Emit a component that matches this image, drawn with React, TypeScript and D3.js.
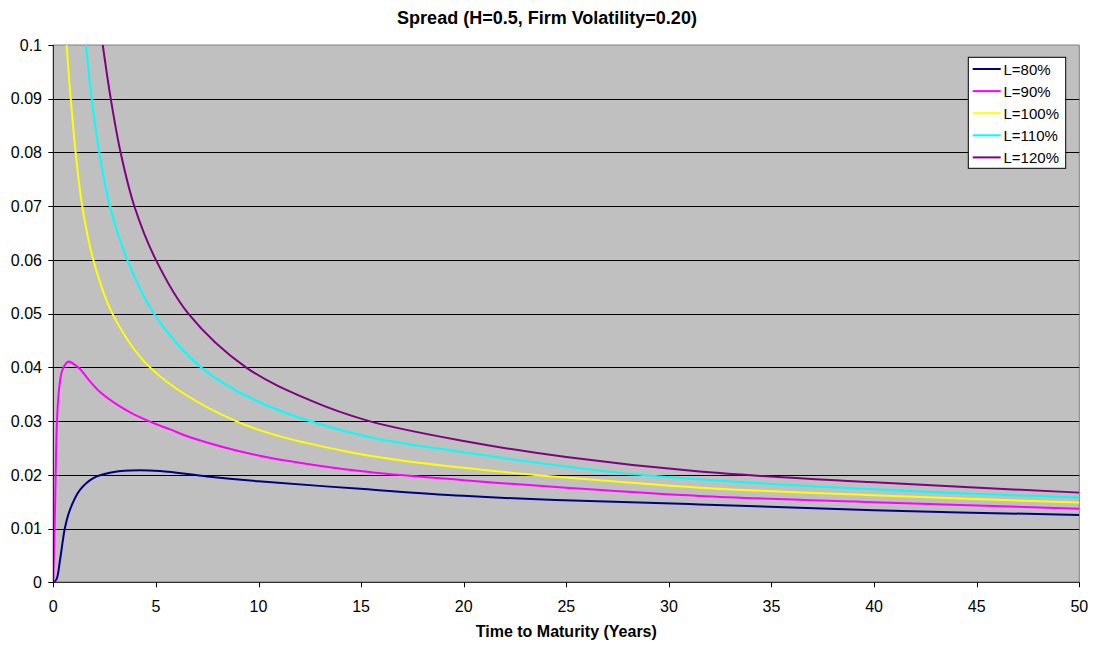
import React from "react";
import * as d3 from "d3";

const title = "Spread (H=0.5, Firm Volatility=0.20)";
const xTitle = "Time to Maturity (Years)";
const xTicks = [0, 5, 10, 15, 20, 25, 30, 35, 40, 45, 50];
const yTicks = [0, 0.01, 0.02, 0.03, 0.04, 0.05, 0.06, 0.07, 0.08, 0.09, 0.1];

const seriesNames = ["L=80%", "L=90%", "L=100%", "L=110%", "L=120%"];
const seriesColors = ["#000080", "#FF00FF", "#FFFF00", "#00FFFF", "#800080"];

const l80: [number, number][] = [
  [0, 0], [0.15, 0.0005], [0.33, 0.0042], [0.57, 0.0102],
  [0.81, 0.0135], [1.3, 0.0172], [1.95, 0.0194], [2.76, 0.0204], [3.74, 0.0208],
  [5.2, 0.0207], [7.5, 0.0197], [10, 0.0188], [14.96, 0.0174], [20, 0.0161],
  [24.5, 0.0153], [31.5, 0.0145], [40, 0.0134], [50, 0.01253],
];
const l90: [number, number][] = [
  [0, 0], [0.08, 0.013], [0.17, 0.029], [0.27, 0.0355], [0.45, 0.0396],
  [0.75, 0.0411], [1.0, 0.0406], [1.3, 0.0397], [1.79, 0.0374], [2.28, 0.0354],
  [3.09, 0.0331], [3.9, 0.0313], [4.71, 0.0299], [5.69, 0.02845], [6.66, 0.0270],
  [10, 0.0236], [14.96, 0.0207], [20, 0.0190],
  [25, 0.0176], [31.5, 0.01607], [40, 0.0149], [50, 0.01371],
];
const l100: [number, number][] = [
  [0.65, 0.1], [0.85, 0.09], [1.09, 0.08], [1.41, 0.07], [1.95, 0.06], [2.88, 0.05],
  [4.71, 0.04], [8.9, 0.03], [14.46, 0.0242],
  [20, 0.0213], [25, 0.0195], [31.5, 0.01762], [40, 0.0162], [50, 0.01483],
];
const l110: [number, number][] = [
  [1.59, 0.1], [1.87, 0.09], [2.24, 0.08], [2.76, 0.07], [3.61, 0.06], [4.9, 0.05],
  [7.2, 0.04], [10, 0.0336], [14.96, 0.0274],
  [20, 0.0242], [28.6, 0.02], [40, 0.0173], [50, 0.01576],
];
const l120: [number, number][] = [
  [2.41, 0.1], [2.8, 0.09], [3.28, 0.08], [3.95, 0.07], [5.0, 0.06], [6.58, 0.05],
  [9.39, 0.04], [12.5, 0.0339], [15.4, 0.03], [20, 0.0263], [25, 0.0233],
  [31.5, 0.0206], [40, 0.0186], [50, 0.01669],
];
const seriesData = [l80, l90, l100, l110, l120];

const W = 1094;
const H = 646;
const plot = { left: 53.3, right: 1079.3, top: 45, bottom: 582.3 };
const FONT = "'Liberation Sans', Arial, sans-serif";

export default function App() {
  const x = d3.scaleLinear().domain([0, 50]).range([plot.left, plot.right]);
  const y = d3.scaleLinear().domain([0, 0.1]).range([plot.bottom, plot.top]);
  const line = d3
    .line<[number, number]>()
    .x((d) => x(d[0]))
    .y((d) => y(d[1]))
    .curve(d3.curveCatmullRom.alpha(0.5));

  const legend = { x: 968.3, y: 57.3, w: 97.4, h: 111, row: 22.1 };

  return (
    <svg
      width={W}
      height={H}
      style={{ position: "absolute", left: 0, top: 0, background: "#fff" }}
      fontFamily={FONT}
    >
      <defs>
        <clipPath id="plotclip">
          <rect x={plot.left} y={plot.top} width={plot.right - plot.left} height={plot.bottom - plot.top} />
        </clipPath>
      </defs>
      <rect x={0} y={0} width={W} height={H} fill="#fff" />
      <rect
        x={plot.left}
        y={plot.top}
        width={plot.right - plot.left}
        height={plot.bottom - plot.top}
        fill="#C0C0C0"
      />
      <line x1={plot.left} x2={plot.right} y1={plot.top} y2={plot.top} stroke="#808080" strokeWidth={1} />
      <line x1={plot.right} x2={plot.right} y1={plot.top} y2={plot.bottom} stroke="#808080" strokeWidth={1} />
      {yTicks.slice(1, -1).map((t) => (
        <line key={t} x1={plot.left} x2={plot.right} y1={Math.round(y(t)) + 0.5} y2={Math.round(y(t)) + 0.5} stroke="#000" strokeWidth={1} />
      ))}
      <g clipPath="url(#plotclip)">
        {seriesData.map((d, i) => (
          <path key={i} d={line(d) || ""} fill="none" stroke={seriesColors[i]} strokeWidth={2} />
        ))}
      </g>
      <line x1={plot.left} x2={plot.left} y1={plot.top} y2={plot.bottom} stroke="#000" strokeWidth={1} />
      <line x1={plot.left} x2={plot.right} y1={plot.bottom} y2={plot.bottom} stroke="#000" strokeWidth={1} />
      {yTicks.map((t) => (
        <g key={t}>
          <line x1={plot.left - 5} x2={plot.left} y1={Math.round(y(t)) + 0.5} y2={Math.round(y(t)) + 0.5} stroke="#000" />
          <text x={42} y={y(t) + 5.7} textAnchor="end" fontSize={16} fill="#000">
            {String(t)}
          </text>
        </g>
      ))}
      {xTicks.map((t) => (
        <g key={t}>
          <line x1={Math.round(x(t)) + 0.5} x2={Math.round(x(t)) + 0.5} y1={plot.bottom} y2={plot.bottom + 5} stroke="#000" />
          <text x={x(t)} y={612} textAnchor="middle" fontSize={16} fill="#000">
            {String(t)}
          </text>
        </g>
      ))}
      <text x={W / 2} y={24} textAnchor="middle" fontSize={18} fontWeight="bold">
        {title}
      </text>
      <text x={(plot.left + plot.right) / 2} y={637} textAnchor="middle" fontSize={16} fontWeight="bold">
        {xTitle}
      </text>
      <rect x={legend.x} y={legend.y} width={legend.w} height={legend.h} fill="#fff" stroke="#000" strokeWidth={1} />
      {seriesNames.map((n, i) => {
        const cy = 69 + i * legend.row;
        return (
          <g key={n}>
            <line x1={972.7} x2={1000.7} y1={cy} y2={cy} stroke={seriesColors[i]} strokeWidth={2} />
            <text x={1003.5} y={cy + 5.5} fontSize={15} fill="#000">
              {n}
            </text>
          </g>
        );
      })}
    </svg>
  );
}
